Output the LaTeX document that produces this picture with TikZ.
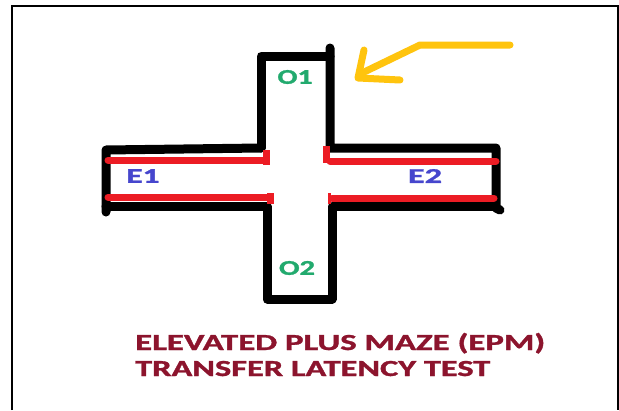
\documentclass[tikz,border=0pt]{standalone}
\usepackage{fontspec}
\setmainfont{Carlito}[BoldFeatures={FakeBold=1.2}]
\definecolor{mazered}{RGB}{236,28,36}
\definecolor{arrowyel}{RGB}{255,196,14}
\definecolor{ogreen}{RGB}{34,170,110}
\definecolor{eblue}{RGB}{70,70,205}
\definecolor{titlered}{RGB}{140,20,45}
\newcommand{\wtext}[2]{\resizebox{#1}{\height}{#2}}
\begin{document}
\begin{tikzpicture}[x=1pt,y=-1pt,
  frameline/.style={line width=1.6pt,black},
  wall/.style={line width=9pt,black,line join=round,line cap=round},
  redwall/.style={line width=7pt,mazered,line cap=round},
  yelstroke/.style={line width=7pt,arrowyel,line cap=round,line join=round},
  armlabel/.style={font=\bfseries\fontsize{21}{23}\selectfont,inner sep=0pt},
  titletext/.style={font=\bfseries\fontsize{23}{26}\selectfont,text=titlered,inner sep=0pt,anchor=base west}]
\useasboundingbox (0,0) rectangle (619,410);
\fill[white] (0,0) rectangle (619,410);
% frame
\draw[frameline] (12,410) -- (12,6) -- (618,6) -- (618,410);
% black maze outline
\draw[wall] (261,148) -- (261,56) -- (330,56);
\draw[wall] (330,48) -- (330,148) -- (496,148) -- (496,208) -- (500,210);
\draw[wall] (261,148) -- (106,150) -- (106,212);
\draw[wall] (106,206) -- (267,206) -- (267,299) -- (332,299) -- (332,206) -- (496,206);
% red lines
\draw[redwall] (108,160) -- (266,160);
\draw[redwall] (330,161) -- (496,161);
\draw[redwall] (108,197) -- (270,197);
\draw[redwall] (332,198) -- (494,198);
\draw[redwall,line cap=butt] (266,150) -- (266,165);
\draw[redwall,line cap=butt] (326,146) -- (326,163);
\draw[redwall,line cap=butt] (270,193) -- (270,204);
\draw[mazered,line width=3pt] (329,193) -- (329,204);
% yellow arrow
\draw[yelstroke] (510,45) -- (420,45) -- (360,74);
\draw[yelstroke] (364,50) -- (358,78) -- (400,80);
% labels
\node[armlabel,text=ogreen] (o1) at (295,77) {\wtext{35pt}{O1}};
\node[armlabel,text=ogreen] (o2) at (297,268) {\wtext{36pt}{O2}};
\node[armlabel,text=eblue] (e1) at (143,176) {\wtext{33pt}{E1}};
\node[armlabel,text=eblue] (e2) at (425,176) {\wtext{34pt}{E2}};
\node[titletext] (t1) at (135,350) {\wtext{410pt}{ELEVATED PLUS MAZE (EPM)}};
\node[titletext] (t2) at (135,376) {\wtext{355pt}{TRANSFER LATENCY TEST}};
\end{tikzpicture}
\end{document}
